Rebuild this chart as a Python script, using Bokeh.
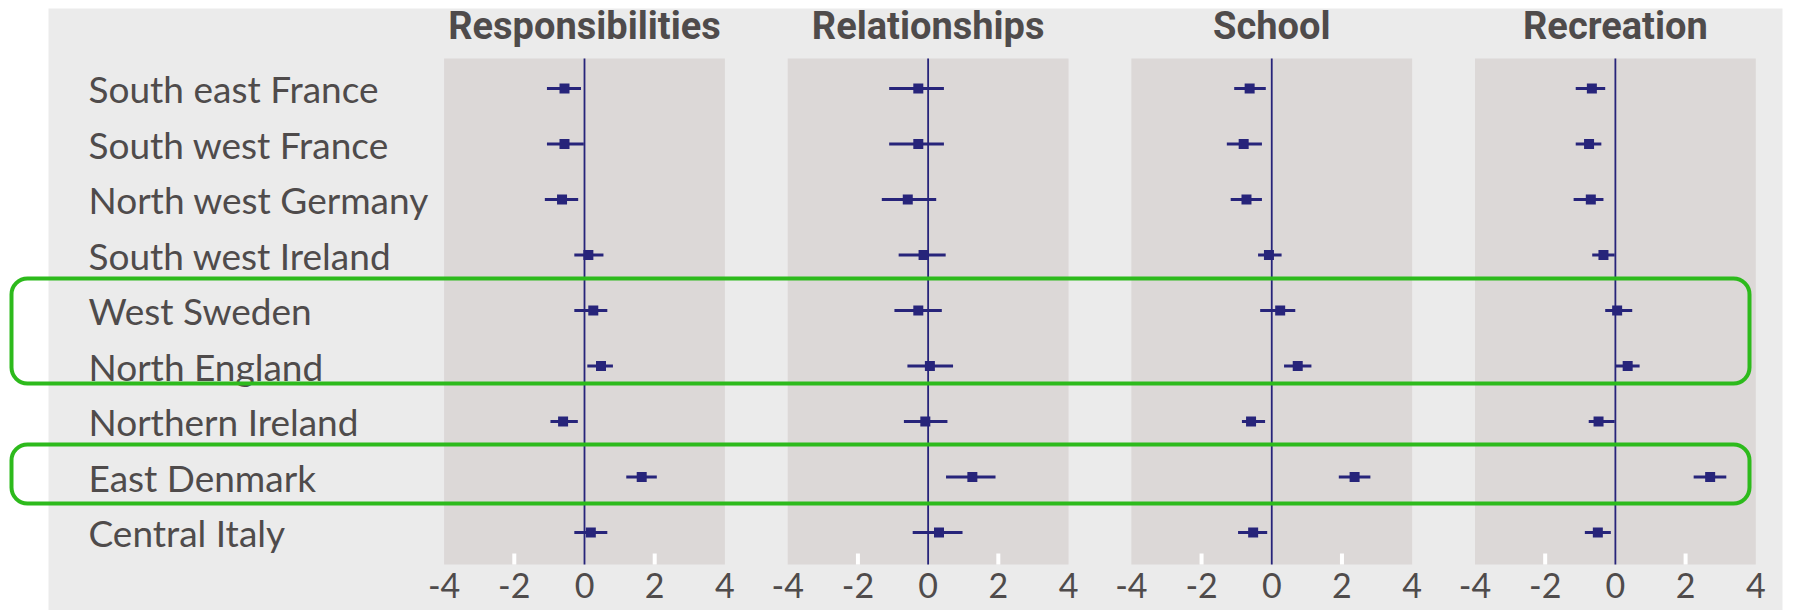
from bokeh.plotting import figure
from bokeh.models import Range1d, ColumnDataSource
from bokeh.core.properties import value
from bokeh.embed import file_html
from bokeh.resources import INLINE

# ---------------- data ----------------
regions = ["South east France", "South west France", "North west Germany",
           "South west Ireland", "West Sweden", "North England",
           "Northern Ireland", "East Denmark", "Central Italy"]
domains = ["Responsibilities", "Relationships", "School", "Recreation"]
tick_values = [-4, -2, 0, 2, 4]
tick_labels = ["-4", "-2", "0", "2", "4"]

resp_est = [-0.57, -0.57, -0.64, 0.11, 0.25, 0.47, -0.61, 1.63, 0.18]
resp_lo = [-1.07, -1.07, -1.13, -0.29, -0.29, 0.08, -0.97, 1.19, -0.29]
resp_hi = [-0.10, -0.02, -0.18, 0.54, 0.65, 0.81, -0.19, 2.06, 0.65]

rel_est = [-0.28, -0.28, -0.58, -0.13, -0.28, 0.05, -0.08, 1.26, 0.31]
rel_lo = [-1.11, -1.11, -1.32, -0.84, -0.96, -0.59, -0.69, 0.51, -0.44]
rel_hi = [0.45, 0.45, 0.23, 0.50, 0.39, 0.71, 0.55, 1.92, 0.98]

school_est = [-0.63, -0.80, -0.72, -0.08, 0.24, 0.74, -0.59, 2.36, -0.53]
school_lo = [-1.07, -1.28, -1.17, -0.39, -0.33, 0.35, -0.85, 1.91, -0.96]
school_hi = [-0.17, -0.28, -0.28, 0.28, 0.67, 1.13, -0.19, 2.81, -0.13]

rec_est = [-0.67, -0.75, -0.70, -0.34, 0.05, 0.35, -0.48, 2.70, -0.50]
rec_lo = [-1.13, -1.13, -1.19, -0.66, -0.29, 0.00, -0.76, 2.23, -0.87]
rec_hi = [-0.29, -0.40, -0.34, -0.02, 0.48, 0.69, -0.02, 3.16, -0.13]

# ---------------- layout constants ----------------
W, H = 1796, 610
PX_PER_UNIT = 35.1
ROW_PX = 55.5
ZERO0_PX = 584.0        # screen x of the first panel's zero
ROW0_PX = 88.0          # screen y of first row
OFF = 9.79              # data-units between panel zeros
XMIN, XMAX = -4, 4

x_start = -ZERO0_PX / PX_PER_UNIT
x_end = x_start + W / PX_PER_UNIT
y_top = -ROW0_PX / ROW_PX
y_bot = y_top + H / ROW_PX

def sx(px):   # screen px -> data x
    return x_start + px / PX_PER_UNIT

def sy(px):   # screen px -> data y (rows)
    return y_top + px / ROW_PX

MARK = "#27247a"
BG = "#ebebeb"
PANEL = "#dcd8d7"
TXT = "#4f4b4b"
GREEN = "#2dba1c"

p = figure(width=W, height=H, output_backend="svg", toolbar_location=None,
           x_range=Range1d(x_start, x_end), y_range=Range1d(y_bot, y_top),
           min_border=0, outline_line_color=None, background_fill_color="white",
           border_fill_color="white")
p.xaxis.visible = False
p.yaxis.visible = False
p.grid.visible = False

# outer light background
p.quad(left=[sx(48)], right=[sx(1782)], top=[sy(8)], bottom=[y_bot + 1],
       fill_color=BG, line_color=None)

panel_top = sy(58)
panel_bot = sy(564)
offsets = [i * OFF for i in range(len(domains))]

# panels
p.quad(left=[o + XMIN for o in offsets], right=[o + XMAX for o in offsets],
       top=[panel_top] * 4, bottom=[panel_bot] * 4, fill_color=PANEL, line_color=None)

# white tick marks at -2 and 2
tx = []
for o in offsets:
    for t in tick_values:
        if t not in (XMIN, XMAX, 0):
            tx.append(o + t)
p.segment(x0=tx, x1=tx, y0=[sy(553)] * len(tx), y1=[panel_bot] * len(tx),
          line_color="white", line_width=4)

# zero lines
p.segment(x0=offsets, x1=offsets, y0=[panel_top] * 4, y1=[panel_bot] * 4,
          line_color=MARK, line_width=1.8)

# forest plot marks
series = [(resp_est, resp_lo, resp_hi), (rel_est, rel_lo, rel_hi),
          (school_est, school_lo, school_hi), (rec_est, rec_lo, rec_hi)]
rows = list(range(len(regions)))
for o, (est, lo, hi) in zip(offsets, series):
    src = ColumnDataSource(dict(
        y=rows,
        est=[e + o for e in est],
        lo=[v + o for v in lo],
        hi=[v + o for v in hi]))
    p.segment(x0="lo", x1="hi", y0="y", y1="y", source=src,
              line_color=MARK, line_width=3)
    p.scatter(x="est", y="y", source=src, marker="square", size=10,
              fill_color=MARK, line_color=None)

# domain titles
p.text(x=offsets, y=[sy(25)] * 4, text=domains, text_align="center",
       text_baseline="middle", text_font=value("Roboto"), text_font_style="bold",
       text_font_size="38px", text_color=TXT)

# region labels
p.text(x=[sx(88)] * len(regions), y=rows, text=regions, text_align="left",
       text_baseline="middle", text_font=value("Lato"), text_font_size="37px",
       text_color=TXT)

# tick labels
lx, ltxt = [], []
for o in offsets:
    for t, lab in zip(tick_values, tick_labels):
        lx.append(o + t)
        ltxt.append(lab)
p.text(x=lx, y=[sy(585)] * len(lx), text=ltxt, text_align="center",
       text_baseline="middle", text_font=value("Lato"), text_font_size="34px",
       text_color=TXT)

# green highlight boxes
box_top = [sy(278), sy(444)]
box_bot = [sy(383), sy(503)]
p.quad(left=[sx(11)] * 2, right=[sx(1749)] * 2, top=box_top, bottom=box_bot,
       fill_color=None, line_color=GREEN, line_width=4, border_radius=16)

open("out.html", "w").write(file_html(p, INLINE))
